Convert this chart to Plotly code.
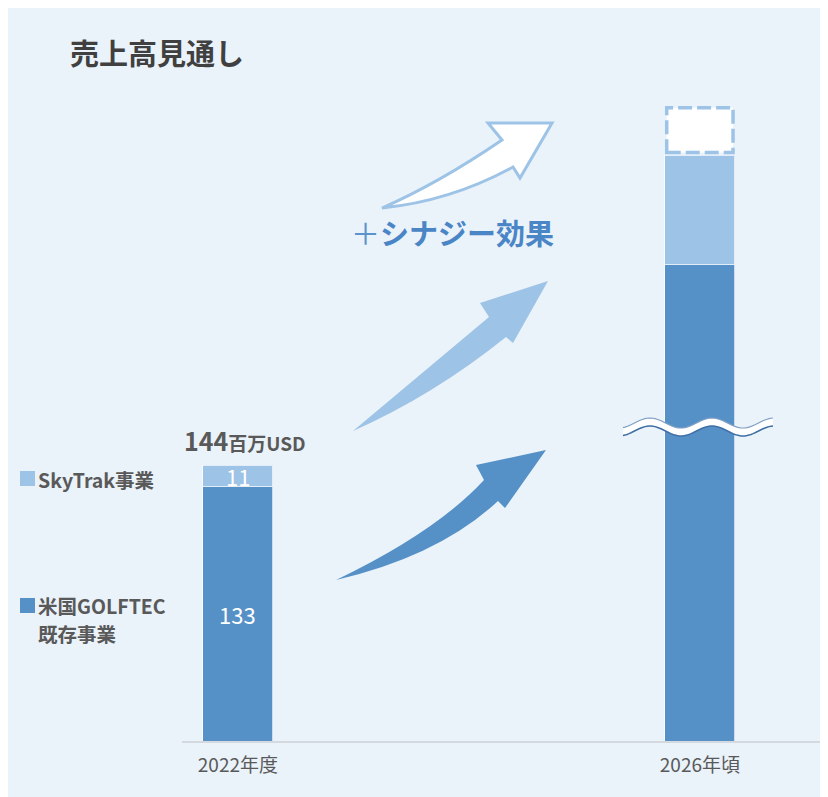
import plotly.graph_objects as go
import math

# ---------------- data ----------------
categories = ["2022年度", "2026年頃"]
golftec = [133, 249]      # 米国GOLFTEC既存事業
skytrak = [11, 57]        # SkyTrak事業
synergy = [0, 25]         # ＋シナジー効果 (dashed box)
value_labels_golftec = ["133", ""]
value_labels_skytrak = ["11", ""]
total_label = "144"
total_unit = "百万USD"
legend_names = ["SkyTrak事業", "米国GOLFTEC", "既存事業"]
title_text = "売上高見通し"
synergy_text = "シナジー効果"

# ---------------- style ----------------
DARK = "#5591C7"
LIGHT = "#9DC3E6"
PANEL = "#EAF2FA"
GRAY = "#595959"
FONT = "Noto Sans CJK JP"

OFF = 8  # page body margin offset
W, H = 820, 789
ML, MR, MT, MB = 174, 2, 92, 56
PW, PH = W - ML - MR, H - MT - MB


def px(x):
    return (x - OFF - ML) / PW


def py(y):
    return (H - MB - (y - OFF)) / PH


BAR_W = 0.1515

fig = go.Figure()
fig.add_trace(go.Bar(x=categories, y=golftec, width=BAR_W,
                     marker=dict(color=DARK, line=dict(color="rgba(255,255,255,0.7)", width=1)), hoverinfo="skip"))
fig.add_trace(go.Bar(x=categories, y=skytrak, width=BAR_W,
                     marker=dict(color=LIGHT, line=dict(color="rgba(255,255,255,0.7)", width=1)), hoverinfo="skip"))

shapes = []
# background panel
shapes.append(dict(type="rect", xref="paper", yref="paper", x0=px(8), x1=px(826), y0=py(800), y1=py(5),
                   fillcolor=PANEL, line=dict(width=0), layer="below"))

# synergy dashed box on top of bar 2
base2 = golftec[1] + skytrak[1]
shapes.append(dict(type="rect", xref="x", yref="y", x0=1 - BAR_W / 2 + 0.004, x1=1 + BAR_W / 2 - 0.004,
                   y0=base2 + 1.6, y1=base2 + synergy[1],
                   fillcolor="white", line=dict(color=LIGHT, width=3.5, dash="14px,5px")))


def pt(p):
    return f"{px(p[0]):.5f},{py(p[1]):.5f}"


def arrow_path(tail, cu, ju, ub, tip, lb, jl, cl):
    return (f"M {pt(tail)} Q {pt(cu)} {pt(ju)} L {pt(ub)} L {pt(tip)} L {pt(lb)} "
            f"L {pt(jl)} Q {pt(cl)} {pt(tail)} Z")


# dark arrow
shapes.append(dict(type="path", xref="paper", yref="paper",
                   path=arrow_path((336, 580), (436, 532), (484, 480), (476, 465), (546, 450), (505, 508), (498, 501), (439, 556)),
                   fillcolor=DARK, line=dict(width=0)))
# light arrow
shapes.append(dict(type="path", xref="paper", yref="paper",
                   path=arrow_path((353, 431), (421, 374), (489, 317), (480, 303), (548, 281), (513, 343), (506, 337), (434, 395)),
                   fillcolor=LIGHT, line=dict(width=0)))
# white outlined arrow
shapes.append(dict(type="path", xref="paper", yref="paper",
                   path=arrow_path((382, 208), (439, 183), (502, 140), (488, 123), (552, 123), (520, 178), (513, 167), (451, 201)),
                   fillcolor="white", line=dict(color=LIGHT, width=3)))

# axis break wave
xs = [623 + i * 2 for i in range(76)]
yc = [427 - 5 * math.cos(2 * math.pi * (x - 650) / 62) for x in xs]
top = [(x, y - 4) for x, y in zip(xs, yc)]
bot = [(x, y + 4) for x, y in zip(xs, yc)]
band = "M " + " L ".join(pt(p) for p in top) + " L " + " L ".join(pt(p) for p in bot[::-1]) + " Z"
shapes.append(dict(type="path", xref="paper", yref="paper", path=band, fillcolor="white", line=dict(width=0)))
shapes.append(dict(type="path", xref="paper", yref="paper", path="M " + " L ".join(pt(p) for p in top),
                   line=dict(color="#7F9FC4", width=1.2)))
shapes.append(dict(type="path", xref="paper", yref="paper", path="M " + " L ".join(pt(p) for p in bot),
                   line=dict(color="#3F6FA6", width=1.5)))

# legend squares
shapes.append(dict(type="rect", xref="paper", yref="paper", x0=px(20), x1=px(35), y0=py(486), y1=py(471),
                   fillcolor=LIGHT, line=dict(width=0)))
shapes.append(dict(type="rect", xref="paper", yref="paper", x0=px(20), x1=px(35), y0=py(613), y1=py(598),
                   fillcolor=DARK, line=dict(width=0)))

annotations = []
# title
annotations.append(dict(xref="paper", yref="paper", x=px(68), y=py(52), xanchor="left", yanchor="middle",
                        text=f"<b>{title_text}</b>", showarrow=False, font=dict(size=29, color="#404040", family=FONT)))
# bar value labels
for i, c in enumerate(categories):
    if value_labels_golftec[i]:
        annotations.append(dict(x=c, y=golftec[i] / 2, text=value_labels_golftec[i], showarrow=False,
                                font=dict(size=22, color="white", family=FONT)))
    if value_labels_skytrak[i]:
        annotations.append(dict(x=c, y=golftec[i] + skytrak[i] / 2, text=value_labels_skytrak[i], showarrow=False,
                                font=dict(size=22, color="white", family=FONT)))
# total label
annotations.append(dict(x=categories[0], y=golftec[0] + skytrak[0], yshift=25, xshift=7, showarrow=False,
                        text=f"<b><span style='font-size:25px'>{total_label}</span>{total_unit}</b>",
                        font=dict(size=19, color=GRAY, family=FONT)))
# legend texts
for name, yy in zip(legend_names, [479, 605, 633]):
    annotations.append(dict(xref="paper", yref="paper", x=px(37), y=py(yy), xanchor="left", yanchor="middle",
                            text=f"<b>{name}</b>", showarrow=False, borderpad=0,
                            font=dict(size=19.5, color=GRAY, family=FONT)))
# synergy text
annotations.append(dict(xref="paper", yref="paper", x=px(349), y=py(232), xanchor="left", yanchor="middle",
                        text=f"<span style='color:#5B93CC'>＋</span><b>{synergy_text}</b>", showarrow=False,
                        font=dict(size=29, color="#4A86C6", family=FONT)))

fig.update_layout(
    width=W, height=H,
    margin=dict(l=ML, r=MR, t=MT, b=MB),
    paper_bgcolor="white", plot_bgcolor="rgba(0,0,0,0)",
    barmode="stack", showlegend=False,
    font=dict(family=FONT, color=GRAY),
    xaxis=dict(type="category", range=[-0.121, 1.273], showline=True, linecolor="#D4D9DF", linewidth=1.5,
               ticks="", showgrid=False, zeroline=False, tickfont=dict(size=19, color=GRAY, family=FONT),
               ticklabelstandoff=6),
    yaxis=dict(visible=False, range=[0, 335]),
    shapes=shapes, annotations=annotations,
)

fig.write_html("out.html")
